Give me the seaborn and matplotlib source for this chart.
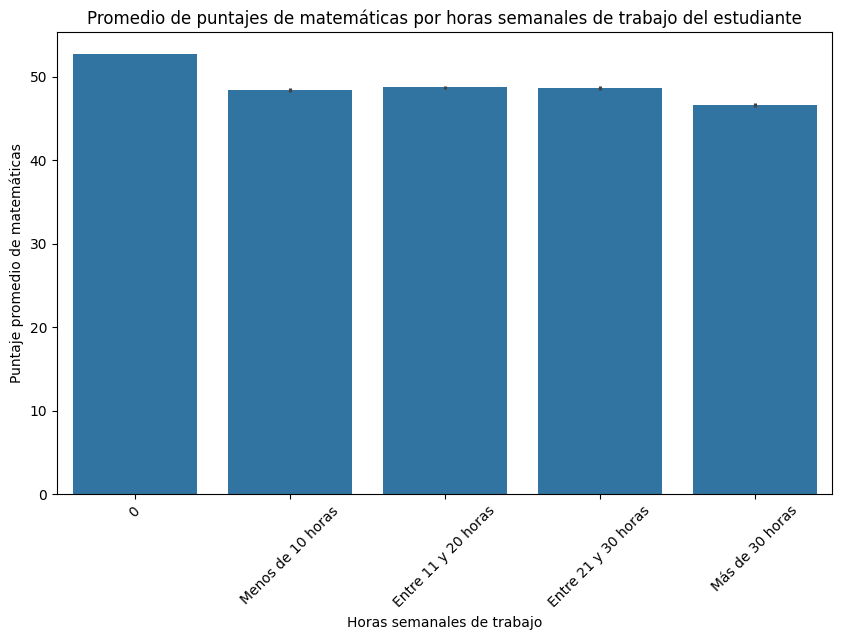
import matplotlib
matplotlib.use("Agg")
import matplotlib.pyplot as plt
import seaborn as sns

# Values
horas = ['0', 'Menos de 10 horas', 'Entre 11 y 20 horas', 'Entre 21 y 30 horas', 'Más de 30 horas']
puntajes = [52.7, 48.4, 48.7, 48.6, 46.6]
err_bajo = [52.7, 48.15, 48.45, 48.35, 46.35]
err_alto = [52.7, 48.6, 48.9, 48.85, 46.85]

fig, ax = plt.subplots(figsize=(8.42, 6.40), dpi=100)
sns.barplot(x=horas, y=puntajes, color='#1f77b4', ax=ax)

# Intervalos de confianza
ax.vlines(range(len(horas)), err_bajo, err_alto, color='#424242', linewidth=2.25, zorder=3)

ax.set_title('Promedio de puntajes de matemáticas por horas semanales de trabajo del estudiante')
ax.set_xlabel('Horas semanales de trabajo')
ax.set_ylabel('Puntaje promedio de matemáticas')
ax.set_xlim(-0.5, 4.5)
ax.set_ylim(0, 55.33)
plt.xticks(rotation=45)

fig.subplots_adjust(left=0.0677, right=0.9887, top=0.9500, bottom=0.2281)
plt.savefig('out.png', dpi=100)
plt.close()
